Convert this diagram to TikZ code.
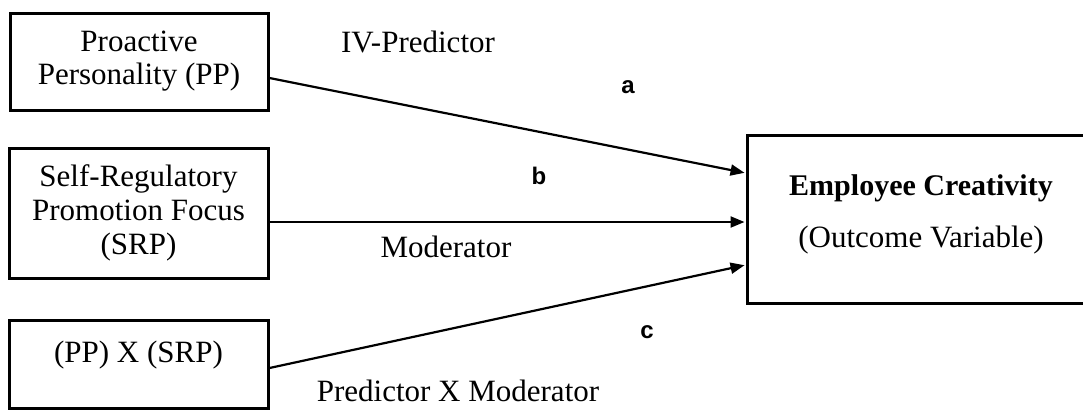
\documentclass[tikz,border=0pt]{standalone}
\usepackage{fontspec}
\setmainfont{Liberation Serif}
\newfontfamily\labfont{Liberation Sans}
\usetikzlibrary{arrows.meta}
\begin{document}
\begin{tikzpicture}[x=1pt,y=-1pt,
  box/.style={draw,line width=3pt,inner sep=0pt,align=center,font=\fontsize{31}{33}\selectfont},
  conn/.style={line width=2.2pt,-{Triangle[length=14pt,width=11pt]},shorten >=1pt},
  lbl/.style={font=\fontsize{31}{33}\selectfont,anchor=base,inner sep=0pt},
  letter/.style={font=\labfont\bfseries\fontsize{24}{24}\selectfont,anchor=base,inner sep=0pt}]
\useasboundingbox (0,0) rectangle (1083,410);
\clip (0,0) rectangle (1083,410);
\node[box,minimum width=258pt,minimum height=97pt] (pp) at (139,61.5) {Proactive\\Personality (PP)};
\node[box,minimum width=259pt,minimum height=130pt,font=\fontsize{31}{34}\selectfont] (srp) at (138.5,213) {Self-Regulatory\\Promotion Focus\\(SRP)};
\node[box,minimum width=259pt,minimum height=88pt] (int) at (138.5,364) {};
\node[lbl] (intt) at (138.5,362) {(PP) X (SRP)};
\node[box,minimum width=348pt,minimum height=168pt] (ec) at (921,219) {};
\node[lbl,font=\bfseries\fontsize{30}{33}\selectfont] (ect) at (921,195) {Employee Creativity};
\node[lbl] (ecs) at (921,247) {(Outcome Variable)};
\draw[conn] ([yshift=-16.5pt]pp.east) -- ([yshift=46pt]ec.west);
\draw[conn] ([yshift=-9pt]srp.east) -- ([yshift=-3pt]ec.west);
\draw[conn] ([yshift=-4pt]int.east) -- ([yshift=-46pt]ec.west);
\node[lbl] (ivp) at (418,52) {IV-Predictor};
\node[letter] (la) at (628,93) {a};
\node[letter] (lb) at (539,184) {b};
\node[lbl] (mod) at (446,257) {Moderator};
\node[letter] (lc) at (647,338) {c};
\node[lbl] (pxm) at (458,401) {Predictor X Moderator};
\end{tikzpicture}
\end{document}
